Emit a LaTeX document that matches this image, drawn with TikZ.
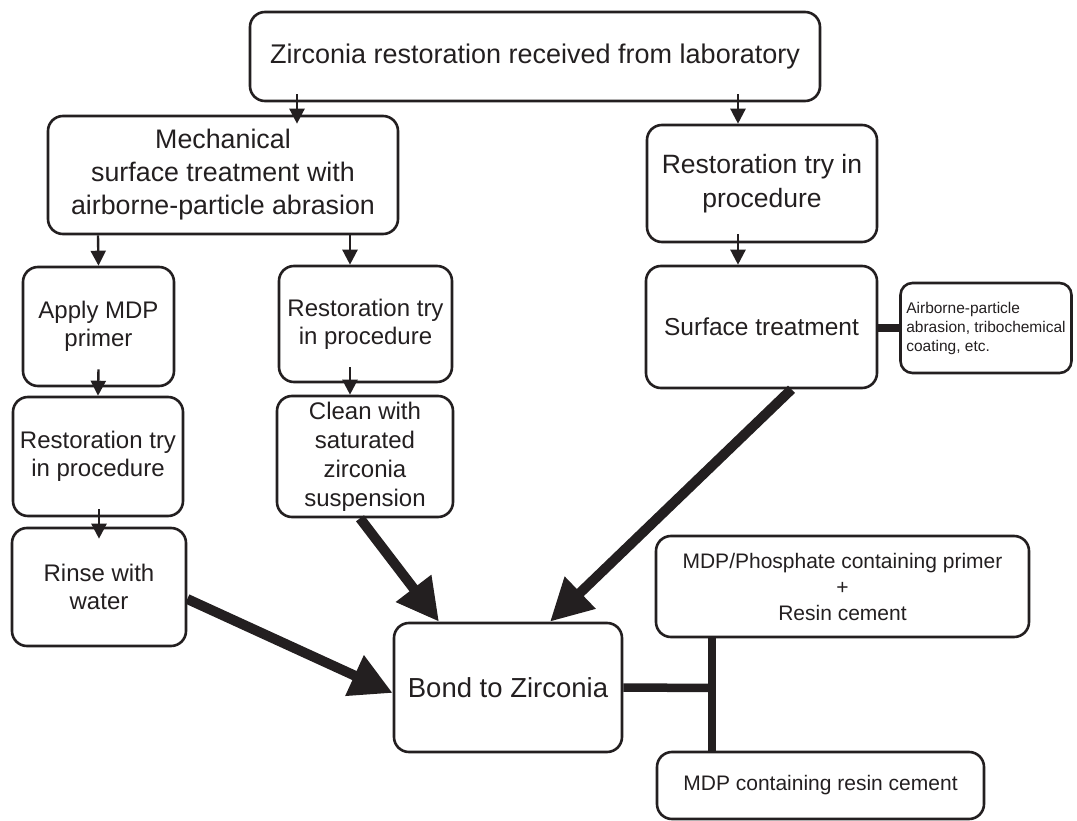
\documentclass[tikz,border=0pt]{standalone}
\usepackage{fontspec}
\setmainfont{Liberation Sans}
\usetikzlibrary{arrows.meta}
\definecolor{ink}{HTML}{231F20}

\begin{document}
\begin{tikzpicture}[x=1pt, y=-1pt, color=ink,
    box/.style={draw=ink, text=ink, line width=2.6pt, rounded corners=15pt, align=center, inner sep=2pt},
    flow/.style={line width=2.4pt, -{Triangle[length=15pt, width=15pt]}},
    bigflow/.style={line width=10pt, -{Triangle[length=42pt, width=42pt]}},
    link/.style={line width=8.5pt}]
  \useasboundingbox (0,0) rectangle (1077,821);
  % top row
  \node[box, minimum width=570pt, minimum height=89pt, font=\fontsize{27}{33}\selectfont] (zr) at (535,56.5) {Zirconia restoration received from laboratory};
  \node[box, minimum width=350pt, minimum height=118pt, font=\fontsize{26.8}{33}\selectfont] (mech) at (223,175) {Mechanical\\surface treatment with\\airborne-particle abrasion};
  \node[box, minimum width=230pt, minimum height=117pt, font=\fontsize{26.5}{34}\selectfont] (rtry) at (762,183.5) {Restoration try in\\procedure};
  % middle boxes
  \node[box, minimum width=151pt, minimum height=119pt, font=\fontsize{24}{28}\selectfont] (apply) at (98.5,326.5) {Apply MDP\\primer};
  \node[box, minimum width=170pt, minimum height=119pt, font=\fontsize{24}{28}\selectfont] (tryA) at (98,456.5) {Restoration try\\in procedure};
  \node[box, minimum width=174pt, minimum height=118pt, font=\fontsize{24}{28}\selectfont] (rinse) at (99,587) {Rinse with\\water};
  \node[box, minimum width=173pt, minimum height=116pt, font=\fontsize{24}{28}\selectfont] (tryB) at (365.5,324) {Restoration try\\in procedure};
  \node[box, minimum width=176pt, minimum height=121pt, font=\fontsize{24}{29}\selectfont] (clean) at (365,456.5) {Clean with\\saturated\\zirconia\\suspension};
  \node[box, minimum width=231pt, minimum height=122pt, font=\fontsize{24.5}{30}\selectfont] (surf) at (761.5,327) {Surface treatment};
  \node[box, rounded corners=12pt, align=left, minimum width=171pt, minimum height=90pt, font=\fontsize{15.5}{19}\selectfont] (note) at (986,328) {Airborne-particle\\abrasion, tribochemical\\coating, etc.};
  % bottom
  \node[box, minimum width=228pt, minimum height=129pt, font=\fontsize{27.5}{33}\selectfont] (bond) at (508,687.5) {Bond to Zirconia};
  \node[box, minimum width=373pt, minimum height=101pt, font=\fontsize{21}{26}\selectfont] (phos) at (842.5,586.5) {MDP/Phosphate containing primer\\+\\Resin cement};
  \node[box, minimum width=327pt, minimum height=67pt, font=\fontsize{21}{26}\selectfont] (resin) at (820.5,785.5) {MDP containing resin cement};
  \coordinate (tee) at (712,688);

  % thin arrows
  \draw[flow] ([xshift=-238pt, yshift=8pt]zr.south) -- ([xshift=74pt, yshift=-9pt]mech.north);
  \draw[flow] ([xshift=203pt, yshift=8pt]zr.south) -- ([xshift=-24pt]rtry.north);
  \draw[flow] ([xshift=-125pt]mech.south) -- (apply.north);
  \draw[flow] ([xshift=127pt]mech.south) -- ([xshift=-15.5pt]tryB.north);
  \draw[flow] ([yshift=18pt]apply.south) -- (tryA.north);
  \draw[flow] ([xshift=1pt, yshift=8pt]tryA.south) -- ([yshift=-12pt]rinse.north);
  \draw[flow] ([xshift=-15.5pt, yshift=16pt]tryB.south) -- ([xshift=-15pt]clean.north);
  \draw[flow] ([xshift=-24pt, yshift=9pt]rtry.south) -- ([xshift=-23.5pt]surf.north);

  % thick arrows
  \draw[bigflow] ([yshift=-12pt]rinse.east) -- ([yshift=-5.5pt]bond.west);
  \draw[bigflow] ([xshift=-5pt]clean.south) -- ([xshift=-69pt]bond.north);
  \draw[bigflow] ([xshift=30pt]surf.south) -- ([xshift=42pt]bond.north);

  % links
  \draw[link] (note.west -| surf.east) -- (note.west);
  \draw[link] (bond.east) -- (tee);
  \draw[link] (phos.south -| tee) -- (resin.north -| tee);
\end{tikzpicture}
\end{document}
